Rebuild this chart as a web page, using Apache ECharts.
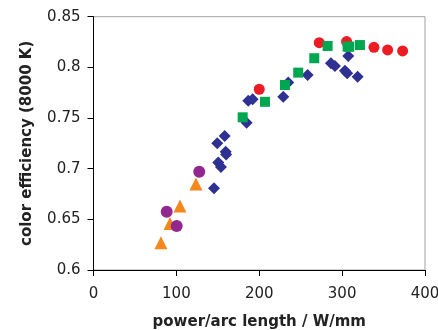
<!DOCTYPE html>
<html><head><meta charset="utf-8">
<script src="https://cdn.jsdelivr.net/npm/echarts@6/dist/echarts.min.js"></script>
<style>html,body{margin:0;padding:0;background:#fff}#c{width:438px;height:330px}</style>
</head><body><div id="c"></div>
<script>
// Blue diamonds
var blueX = [145.4, 149.3, 150.5, 153.8, 158.3, 159.5, 160.0, 184.8, 186.7, 192.0, 229.0, 235.0, 258.4, 286.5, 291.3, 303.4, 306.1, 307.4, 318.7];
var blueY = [0.6807, 0.725, 0.706, 0.7017, 0.7323, 0.7168, 0.714, 0.7454, 0.7671, 0.7685, 0.771, 0.785, 0.7925, 0.804, 0.8014, 0.7967, 0.7942, 0.8113, 0.7908];
// Green squares
var greenX = [180.0, 206.9, 231.0, 247.0, 266.4, 282.5, 306.6, 308.6, 321.5];
var greenY = [0.7507, 0.766, 0.7826, 0.7948, 0.809, 0.8211, 0.8204, 0.8204, 0.822];
// Red circles
var redX = [200.0, 272.4, 305.4, 338.4, 354.9, 373.0];
var redY = [0.7784, 0.8244, 0.8254, 0.8198, 0.8172, 0.8162];
// Purple circles
var purpleX = [88.3, 100.4, 127.6];
var purpleY = [0.6576, 0.6434, 0.697];
// Orange triangles
var orangeX = [81.4, 92.3, 104.3, 123.6];
var orangeY = [0.627, 0.646, 0.6632, 0.6849];

var xTicks = {min: 0, max: 400, interval: 100};
var yTicks = {min: 0.6, max: 0.85, interval: 0.05};

function pairs(xs, ys){ return xs.map(function(x,i){ return [x, ys[i]]; }); }

var chart = echarts.init(document.getElementById('c'));
var FONT = 'DejaVu Sans, Arial, sans-serif';
var labelFont = {fontFamily: FONT, fontSize: 15, color: '#222'};
var nameFont = {fontFamily: FONT, fontSize: 15, fontWeight: 'bold', color: '#222'};
chart.setOption({
  animation: false,
  grid: {left: 93.5, right: 13, top: 16.7, bottom: 60, containLabel: false, outerBoundsMode: 'none',
         show: true, borderColor: '#a0a0a0', borderWidth: 1, backgroundColor: 'transparent'},
  xAxis: {
    type: 'value', min: xTicks.min, max: xTicks.max, interval: xTicks.interval,
    name: 'power/arc length / W/mm', nameLocation: 'middle', nameGap: 45,
    nameTextStyle: nameFont,
    axisLine: {show: true, onZero: false, lineStyle: {color: '#000', width: 1}},
    axisTick: {show: true, length: 6, lineStyle: {color: '#000'}},
    axisLabel: Object.assign({margin: 17}, labelFont),
    splitLine: {show: false}
  },
  yAxis: {
    type: 'value', min: yTicks.min, max: yTicks.max, interval: yTicks.interval,
    name: 'color efficiency (8000 K)', nameLocation: 'middle', nameGap: 59,
    nameTextStyle: nameFont,
    axisLine: {show: true, onZero: false, lineStyle: {color: '#000', width: 1}},
    axisTick: {show: true, length: 6, lineStyle: {color: '#000'}},
    axisLabel: Object.assign({margin: 13}, labelFont),
    splitLine: {show: false}
  },
  series: [
    {type: 'scatter', data: pairs(redX, redY), symbol: 'circle', symbolSize: 11, itemStyle: {color: '#ec1c24', opacity: 1}},
    {type: 'scatter', data: pairs(blueX, blueY), symbol: 'diamond', symbolSize: [12, 12], itemStyle: {color: '#2e3192', opacity: 1}},
    {type: 'scatter', data: pairs(greenX, greenY), symbol: 'rect', symbolSize: 10, itemStyle: {color: '#00a650', opacity: 1}},
    {type: 'scatter', data: pairs(orangeX, orangeY), symbol: 'triangle', symbolSize: 13, itemStyle: {color: '#f5871f', opacity: 1}},
    {type: 'scatter', data: pairs(purpleX, purpleY), symbol: 'circle', symbolSize: 12, itemStyle: {color: '#92278f', opacity: 1}}
  ]
});
</script></body></html>
